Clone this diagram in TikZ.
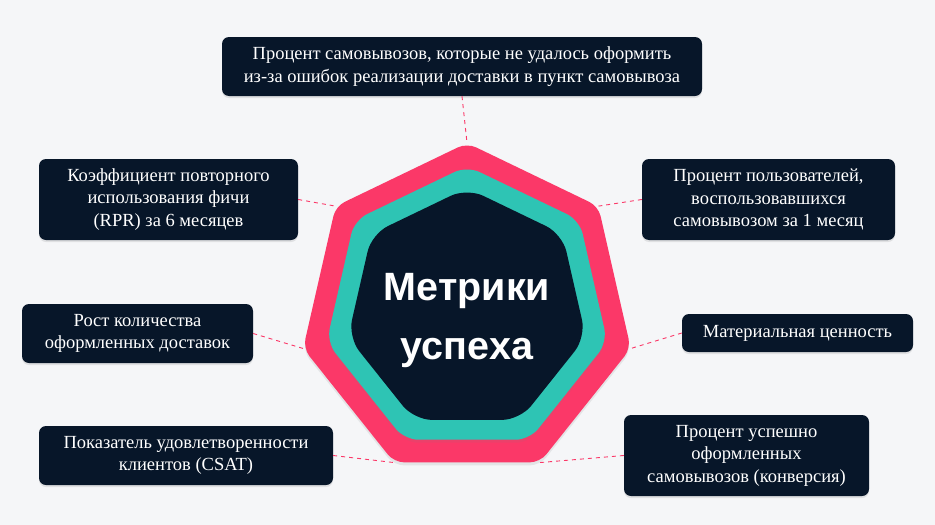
\documentclass[tikz,border=0pt]{standalone}
\usepackage{fontspec}
\setmainfont{Liberation Serif}
\newfontfamily\headfont{Liberation Sans}
\usetikzlibrary{shapes.geometric,shadows}

\definecolor{bgcol}{HTML}{F5F6F8}
\definecolor{navy}{HTML}{071629}
\definecolor{pinkred}{HTML}{FB3868}
\definecolor{tealring}{HTML}{2EC4B4}

\begin{document}
\begin{tikzpicture}[x=1pt,y=-1pt]
    \tikzset{
        metric/.style={
            rectangle, rounded corners=7pt, fill=navy, text=white,
            align=center, inner sep=4pt,
            font=\fontsize{18.5}{22.5}\selectfont,
            drop shadow={opacity=0.18, shadow xshift=0pt, shadow yshift=-2pt},
        },
        link/.style={pinkred, line width=0.9pt, dash pattern=on 4pt off 4pt},
        hept/.style={
            regular polygon, regular polygon sides=7, inner sep=0pt,
            rounded corners=#1,
        },
    }

    % Background
    \fill[bgcol] (0,0) rectangle (935,525);
    \useasboundingbox (0,0) rectangle (935,525);

    % Heptagon
    \node[hept=10pt, fill=pinkred, minimum size=336pt,
          drop shadow={opacity=0.15, shadow xshift=0pt, shadow yshift=-3pt}] (outer) at (467,311) {};
    \node[hept=14pt, fill=tealring, minimum size=288pt,
          drop shadow={opacity=0.12, shadow xshift=0pt, shadow yshift=-3pt}] (middle) at (467,310) {};
    \node[hept=18pt, fill=navy, minimum size=244pt] (core) at (467,310) {};
    \node[text=white, align=center, font=\headfont\bfseries\fontsize{39.5}{59}\selectfont] (title) at (467,321) {Метрики\\успеха};

    % Metrics
    \node[metric, minimum width=480pt, minimum height=59pt] (failed) at (462,66.5)
        {Процент самовывозов, которые не удалось оформить\\из-за ошибок реализации доставки в пункт самовывоза};
    \node[metric, minimum width=259pt, minimum height=81pt] (rpr) at (168.5,199.5)
        {Коэффициент повторного\\использования фичи\\(RPR) за 6 месяцев};
    \node[metric, minimum width=231pt, minimum height=59pt] (growth) at (137.5,333.5)
        {Рост количества\\оформленных доставок};
    \node[metric, minimum width=294pt, minimum height=59pt] (csat) at (186,455.5)
        {Показатель удовлетворенности\\клиентов (CSAT)};
    \node[metric, minimum width=253pt, minimum height=81pt] (users) at (768.5,199.5)
        {Процент пользователей,\\воспользовавшихся\\самовывозом за 1 месяц};
    \node[metric, minimum width=231pt, minimum height=38pt] (value) at (797.5,333)
        {Материальная ценность};
    \node[metric, minimum width=245pt, minimum height=81pt] (conv) at (746.5,455.5)
        {Процент успешно\\оформленных\\самовывозов (конверсия)};

    % Connectors
    \draw[link] (failed.south) -- (outer.corner 1);
    \draw[link] (rpr.east) -- (outer.corner 2);
    \draw[link] (growth.east) -- (outer.corner 3);
    \draw[link] (csat.east) -- (outer.corner 4);
    \draw[link] (conv.west) -- (outer.corner 5);
    \draw[link] (value.west) -- (outer.corner 6);
    \draw[link] (users.west) -- (outer.corner 7);
\end{tikzpicture}
\end{document}
